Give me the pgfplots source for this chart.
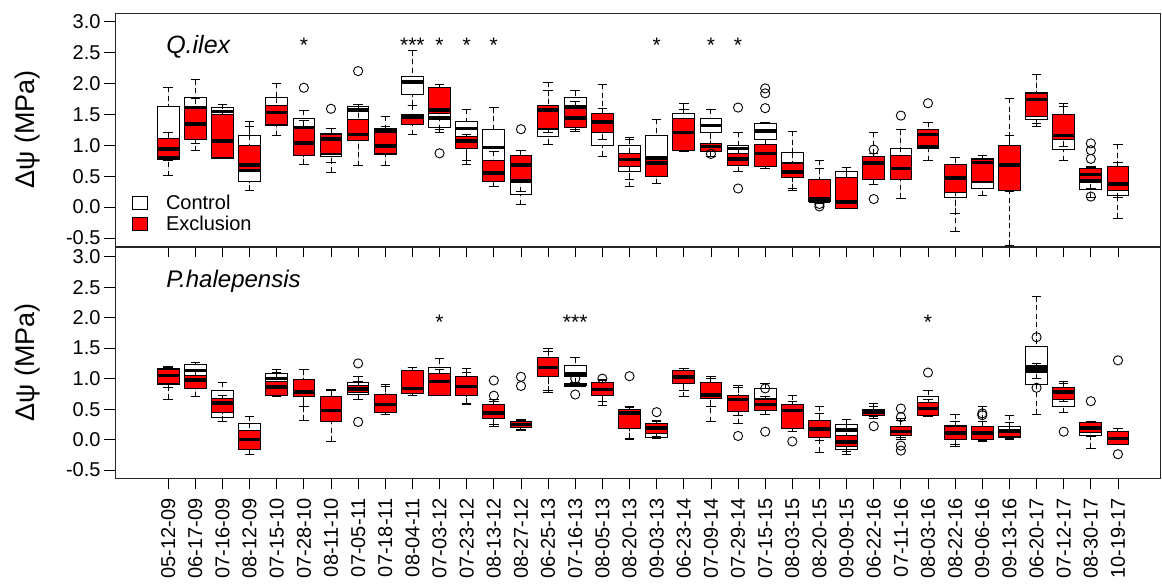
\documentclass[border=0pt]{standalone}
\usepackage{pgfplots}
\pgfplotsset{compat=1.18}
\usepackage{pgfplotstable}
\usepgfplotslibrary{statistics}
\usepackage{fontspec}
\setmainfont{Liberation Sans}

% Q. ilex, Control
\pgfplotstableread{
lw lq med uq uw
0.51 0.77 0.80 1.62 1.94
0.91 1.10 1.60 1.77 2.06
0.78 0.79 1.55 1.61 1.66
0.27 0.41 0.60 1.15 1.38
1.15 1.32 1.63 1.77 2.00
0.69 0.84 1.28 1.44 1.57
0.56 0.81 0.87 1.19 1.27
0.67 1.07 1.57 1.62 1.66
0.67 0.85 1.24 1.27 1.47
1.65 1.82 2.02 2.12 2.53
1.20 1.29 1.44 1.60 1.70
0.69 0.94 1.27 1.38 1.58
0.33 0.41 0.96 1.26 1.61
0.04 0.21 0.42 0.83 0.92
1.02 1.14 1.28 1.64 2.02
1.23 1.28 1.62 1.78 1.88
0.82 1.00 1.40 1.52 1.99
0.33 0.58 0.77 0.99 1.13
0.38 0.49 0.80 1.15 1.42
0.90 0.91 1.30 1.52 1.67
0.82 1.21 1.32 1.44 1.58
0.57 0.67 0.95 0.99 1.21
1.00 1.10 1.23 1.35 1.37
0.26 0.48 0.70 0.88 1.23
0.05 0.09 0.10 0.44 0.76
-0.03 -0.02 0.30 0.57 0.64
0.37 0.47 0.68 0.82 0.86
0.14 0.44 0.60 0.94 1.25
0.75 0.95 0.98 1.25 1.37
-0.40 0.16 0.45 0.69 0.80
0.18 0.30 0.42 0.79 0.83
-0.62 0.27 0.70 1.00 1.76
1.31 1.42 1.80 1.86 2.15
0.75 0.93 1.30 1.49 1.68
0.15 0.29 0.41 0.63 0.65
-0.18 0.18 0.40 0.65 1.02
}\qic

% Q. ilex, Exclusion
\pgfplotstableread{
lw lq med uq uw
0.76 0.82 0.94 1.11 1.20
1.03 1.10 1.34 1.59 1.75
0.78 0.80 1.07 1.49 1.66
0.58 0.60 0.68 1.00 1.30
1.15 1.33 1.53 1.64 1.77
0.69 0.83 1.04 1.27 1.40
0.72 0.86 1.10 1.18 1.27
0.67 1.07 1.17 1.42 1.66
0.67 0.86 0.99 1.20 1.30
1.17 1.34 1.46 1.49 1.65
1.25 1.52 1.57 1.94 1.98
0.76 0.94 1.07 1.14 1.18
0.33 0.41 0.55 0.75 0.90
0.25 0.44 0.68 0.83 0.92
1.20 1.27 1.57 1.64 1.88
1.25 1.28 1.44 1.60 1.70
1.10 1.20 1.38 1.52 1.60
0.45 0.65 0.77 0.87 1.10
0.38 0.49 0.71 0.77 0.80
0.90 0.92 1.21 1.44 1.58
0.82 0.90 0.98 1.03 1.20
0.57 0.67 0.78 0.86 0.95
0.62 0.65 0.87 1.02 1.10
0.30 0.48 0.57 0.71 0.88
0.05 0.09 0.13 0.45 0.63
-0.03 -0.02 0.08 0.48 0.57
0.37 0.45 0.71 0.82 1.21
0.14 0.44 0.62 0.84 1.25
0.97 1.00 1.17 1.25 1.37
-0.10 0.24 0.47 0.69 0.80
0.41 0.41 0.72 0.77 0.83
0.25 0.27 0.68 0.99 1.15
1.35 1.46 1.74 1.84 2.14
0.98 1.09 1.16 1.49 1.62
0.30 0.44 0.53 0.62 0.64
0.15 0.27 0.37 0.65 0.72
}\qie

% Q. ilex, outliers
\pgfplotstableread{
x y
5 1.93
6 1.59
7 2.20
10 0.87
13 1.26
20 0.86
21 1.61
21 0.30
22 1.92
22 1.84
22 1.60
24 0.05
24 0.01
26 0.93
26 0.13
27 1.48
28 1.68
34 1.03
34 0.92
34 0.78
34 0.17
}\qio

% P. halepensis, Control
\pgfplotstableread{
lw lq med uq uw
0.66 0.90 1.08 1.17 1.20
0.70 0.84 1.13 1.23 1.26
0.29 0.37 0.58 0.81 0.94
-0.25 -0.14 0.02 0.26 0.38
0.70 0.73 1.00 1.08 1.15
0.55 0.70 0.80 0.97 1.15
0.30 0.40 0.55 0.68 0.80
0.65 0.74 0.86 0.93 1.03
0.42 0.46 0.60 0.72 0.87
0.73 0.78 0.90 1.12 1.18
0.72 0.72 1.05 1.19 1.33
0.60 0.75 0.90 1.02 1.10
0.25 0.36 0.45 0.55 0.62
0.17 0.21 0.24 0.29 0.32
0.80 1.05 1.15 1.33 1.45
0.93 1.03 1.08 1.22 1.34
0.62 0.75 0.85 0.92 0.97
0.02 0.19 0.40 0.48 0.52
0.02 0.04 0.12 0.27 0.30
0.80 0.93 1.00 1.12 1.16
0.55 0.68 0.80 0.92 1.00
0.40 0.48 0.62 0.72 0.85
0.42 0.48 0.65 0.84 0.92
0.13 0.20 0.45 0.58 0.62
-0.02 0.05 0.15 0.30 0.43
-0.25 -0.16 0.16 0.25 0.33
0.38 0.39 0.45 0.50 0.59
0.03 0.08 0.15 0.22 0.35
0.40 0.43 0.58 0.70 0.81
-0.08 0.02 0.12 0.23 0.30
-0.02 0.02 0.12 0.20 0.30
0.02 0.03 0.12 0.21 0.28
0.42 0.91 1.20 1.53 2.34
0.44 0.55 0.70 0.85 0.92
0.05 0.06 0.15 0.28 0.29
-0.08 -0.05 0.03 0.12 0.18
}\phc

% P. halepensis, Exclusion
\pgfplotstableread{
lw lq med uq uw
0.86 0.92 1.05 1.15 1.19
0.70 0.84 0.98 1.05 1.14
0.30 0.44 0.60 0.67 0.73
-0.24 -0.16 0.00 0.15 0.27
0.70 0.73 0.86 0.95 1.10
0.32 0.70 0.78 0.98 1.15
-0.03 0.29 0.48 0.70 0.82
0.65 0.78 0.83 0.89 0.95
0.42 0.45 0.58 0.74 0.91
0.73 0.76 0.84 1.13 1.18
0.72 0.72 0.95 1.08 1.15
0.58 0.72 0.87 1.03 1.17
0.21 0.34 0.44 0.58 0.65
0.15 0.20 0.25 0.30 0.33
0.78 1.04 1.18 1.35 1.50
0.87 0.88 0.89 0.92 0.93
0.56 0.73 0.82 0.93 0.98
0.00 0.19 0.44 0.50 0.54
0.05 0.10 0.19 0.27 0.32
0.70 0.92 1.03 1.13 1.17
0.29 0.67 0.73 0.93 1.04
0.26 0.46 0.66 0.73 0.89
0.42 0.48 0.58 0.66 0.70
0.13 0.19 0.48 0.58 0.73
-0.21 0.03 0.17 0.32 0.55
-0.20 -0.12 -0.04 0.07 0.25
0.35 0.40 0.45 0.49 0.55
0.00 0.07 0.13 0.21 0.32
0.38 0.39 0.51 0.61 0.66
-0.11 0.00 0.11 0.21 0.42
-0.03 0.00 0.11 0.21 0.54
0.00 0.05 0.13 0.17 0.40
1.00 1.10 1.14 1.18 1.25
0.62 0.65 0.78 0.85 0.95
-0.14 0.11 0.19 0.28 0.29
-0.08 -0.08 0.02 0.14 0.19
}\phe

% P. halepensis, outliers
\pgfplotstableread{
x y
7 1.25
7 0.29
12 0.97
12 0.72
13 1.03
13 0.88
15 1.00
15 0.74
16 1.00
17 1.04
18 0.45
21 0.06
22 0.84
22 0.13
23 -0.03
26 0.22
27 0.51
27 0.37
27 -0.10
27 -0.18
28 1.10
30 0.43
30 0.40
32 1.68
32 0.85
33 0.13
34 0.63
35 1.30
35 -0.24
}\pho

% one box from row #2 of table #1, drawn in style #3
\newcommand\boxrow[3]{%
  \pgfplotstablegetelem{#2}{lw}\of#1\let\vlw\pgfplotsretval
  \pgfplotstablegetelem{#2}{lq}\of#1\let\vlq\pgfplotsretval
  \pgfplotstablegetelem{#2}{med}\of#1\let\vmed\pgfplotsretval
  \pgfplotstablegetelem{#2}{uq}\of#1\let\vuq\pgfplotsretval
  \pgfplotstablegetelem{#2}{uw}\of#1\let\vuw\pgfplotsretval
  \edef\tmpbox{\noexpand\addplot[#3, boxplot prepared={draw position=#2, lower whisker=\vlw, lower quartile=\vlq, median=\vmed, upper quartile=\vuq, upper whisker=\vuw}] coordinates {};}%
  \tmpbox
}

\tikzset{sigstar/.style={font=\fontsize{21}{22}\selectfont}}

\pgfplotsset{
  panel/.style={
    scale only axis, width=1045pt,
    xmin=-1.96, xmax=36.55,
    ymin=-0.63,
    xtick={0,...,35},
    ytick={-0.5,0,0.5,1,1.5,2,2.5,3},
    yticklabels={-0.5,0.0,0.5,1.0,1.5,2.0,2.5,3.0},
    tick align=outside, ytick pos=left, xtick pos=bottom,
    major tick length=11pt,
    tick style={line width=0.8pt, black},
    axis line style={line width=0.9pt, black!85},
    yticklabel style={font=\fontsize{20}{22}\selectfont},
    xticklabel style={font=\fontsize{20}{23}\selectfont, rotate=90, anchor=east},
    xticklabel shift=6pt,
    ylabel={Δψ (MPa)},
    every axis y label/.style={at={(axis description cs:-0.0833,0.5)}, rotate=90, anchor=center, font=\fontsize{27}{30}\selectfont},
    boxplot/draw direction=y,
    boxplot/box extend=0.8,
    boxplot/whisker extend=0.35,
    boxplot/every median/.style={line width=3.5pt, black},
    boxplot/draw/lower whisker/.code={%
      \draw[black, line width=1pt, dash pattern=on 5pt off 3.5pt]
        (boxplot cs:\pgfplotsboxplotvalue{lower whisker}) -- (boxplot cs:\pgfplotsboxplotvalue{lower quartile});
      \draw[black, line width=1pt, solid]
        (boxplot whisker cs:\pgfplotsboxplotvalue{lower whisker},0) -- (boxplot whisker cs:\pgfplotsboxplotvalue{lower whisker},1);
    },
    boxplot/draw/upper whisker/.code={%
      \draw[black, line width=1pt, dash pattern=on 5pt off 3.5pt]
        (boxplot cs:\pgfplotsboxplotvalue{upper whisker}) -- (boxplot cs:\pgfplotsboxplotvalue{upper quartile});
      \draw[black, line width=1pt, solid]
        (boxplot whisker cs:\pgfplotsboxplotvalue{upper whisker},0) -- (boxplot whisker cs:\pgfplotsboxplotvalue{upper whisker},1);
    },
  },
  cbox/.style={draw=black, fill=white, line width=1pt, solid},
  ebox/.style={draw=black, fill=red, line width=1pt, solid},
  outl/.style={only marks, mark=o, mark size=4.6pt, black, mark options={line width=0.9pt}},
}

\begin{document}
\begin{tikzpicture}
\useasboundingbox (0,0) rectangle (1162pt,584pt);

% ---------------- Q. ilex ----------------
\begin{axis}[panel,
  at={(115pt,338pt)}, anchor=south west,
  height=233pt, ymax=3.14,
  xticklabels={},
  legend style={draw=none, fill=none, at={(axis description cs:0,0)}, anchor=south west,
    xshift=14pt, yshift=10pt, font=\fontsize{20}{22}\selectfont, row sep=1pt,
    nodes={inner xsep=6pt},
    /tikz/every odd column/.append style={column sep=12pt}},
  legend cell align=left,
]
\addlegendimage{legend image code/.code={\draw[black, fill=white, line width=0.8pt] (0pt,-6.5pt) rectangle (15pt,6.5pt);}}
\addlegendentry{Control}
\addlegendimage{legend image code/.code={\draw[black, fill=red, line width=0.8pt] (0pt,-6.5pt) rectangle (15pt,6.5pt);}}
\addlegendentry{Exclusion}

\pgfplotsinvokeforeach{0,...,35}{\boxrow{\qic}{#1}{cbox}}
\pgfplotsinvokeforeach{0,...,35}{\boxrow{\qie}{#1}{ebox}}
\addplot[outl] table[x=x, y=y] {\qio};

\node[anchor=west, font=\fontsize{25}{28}\selectfont\itshape] at (axis cs:-0.2,2.6) {Q.ilex};
\node[sigstar] at (axis cs:5,2.61) {*};
\node[sigstar] at (axis cs:9,2.61) {***};
\node[sigstar] at (axis cs:10,2.61) {*};
\node[sigstar] at (axis cs:11,2.61) {*};
\node[sigstar] at (axis cs:12,2.61) {*};
\node[sigstar] at (axis cs:18,2.61) {*};
\node[sigstar] at (axis cs:20,2.61) {*};
\node[sigstar] at (axis cs:21,2.61) {*};
\end{axis}

% ---------------- P. halepensis ----------------
\begin{axis}[panel,
  at={(115pt,106pt)}, anchor=south west,
  height=231pt, ymax=3.16,
  xticklabels={05-12-09,06-17-09,07-16-09,08-12-09,07-15-10,07-28-10,08-11-10,07-05-11,07-18-11,08-04-11,07-03-12,07-23-12,08-13-12,08-27-12,06-25-13,07-16-13,08-05-13,08-20-13,09-03-13,06-23-14,07-09-14,07-29-14,07-15-15,08-03-15,08-20-15,09-09-15,06-22-16,07-11-16,08-03-16,08-22-16,09-06-16,09-13-16,06-20-17,07-12-17,08-30-17,10-19-17},
]
\pgfplotsinvokeforeach{0,...,35}{\boxrow{\phc}{#1}{cbox}}
\pgfplotsinvokeforeach{0,...,35}{\boxrow{\phe}{#1}{ebox}}
\addplot[outl] table[x=x, y=y] {\pho};

\node[anchor=west, font=\fontsize{24}{28}\selectfont\itshape] at (axis cs:-0.2,2.6) {P.halepensis};
\node[sigstar] at (axis cs:10,1.93) {*};
\node[sigstar] at (axis cs:15,1.93) {***};
\node[sigstar] at (axis cs:28,1.93) {*};
\end{axis}
\end{tikzpicture}
\end{document}
